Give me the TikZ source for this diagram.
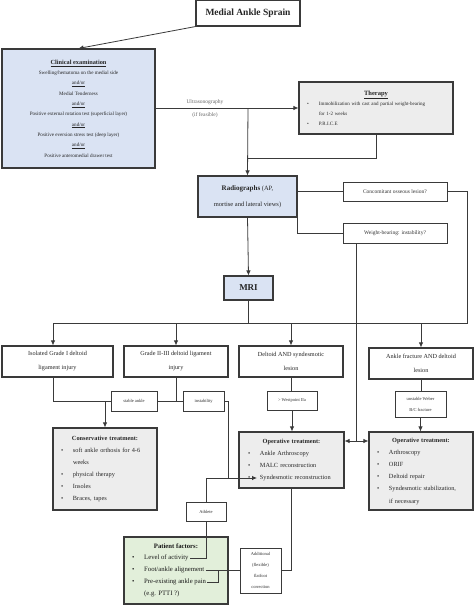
\documentclass[tikz,border=0pt]{standalone}
\usepackage{fontspec}
\setmainfont{Liberation Serif}
\usetikzlibrary{arrows.meta}
\definecolor{bluef}{HTML}{DAE3F3}
\definecolor{grayf}{HTML}{EDEDED}
\definecolor{greenf}{HTML}{E2EFDA}
\definecolor{ln}{HTML}{3A3A3A}
\newcommand{\fs}[2]{\fontsize{#1}{#2}\selectfont}
\newcommand{\bul}{\makebox[12pt][l]{\textbullet}}
\newcommand{\ind}{\hspace*{12pt}}
\begin{document}
\begin{tikzpicture}[x=1pt,y=-1pt,
  box/.style={draw=ln, line width=1.1pt, inner sep=0pt, align=center, text=black!85},
  sbox/.style={draw=ln, line width=0.7pt, inner sep=0pt, align=center, text=black!80, fill=white},
  conn/.style={draw=ln, line width=0.8pt},
  arr/.style={conn, -{Latex[length=5pt,width=4.5pt]}},
  lbl/.style={inner sep=1pt, text=black!60, font=\fs{5.5}{7}},
  pft/.style={inner sep=1pt, anchor=west, text=black!90, font=\fs{6.7}{8}},
]
\useasboundingbox (0,0) rectangle (474,606);

% ---------- boxes ----------
\node[box, fill=white, minimum width=104pt, minimum height=26pt, font=\fs{9.5}{11}] (title) at (248,13)
  {\textbf{Medial Ankle Sprain}};

\node[box, fill=bluef, minimum width=153pt, minimum height=119pt, font=\fs{5.1}{10.3}] (clin) at (78.5,108.5)
  {\underline{\textbf{\fs{6.3}{11}Clinical examination}}\\
   Swelling/hematoma on the medial side\\ \underline{and/or}\\
   Medial Tenderness\\ \underline{and/or}\\
   Positive external rotation test (superficial layer)\\ \underline{and/or}\\
   Positive eversion stress test (deep layer)\\ \underline{and/or}\\
   Positive anteromedial drawer test};

\node[box, fill=grayf, minimum width=154pt, minimum height=52pt, inner xsep=8pt,
      text width=138pt, align=left, font=\fs{5}{10}] (therapy) at (376,108)
  {\makebox[\linewidth]{\underline{\textbf{\fs{6.5}{10}Therapy}}}\\
   \bul Immobilization with cast and partial weight-bearing\\
   \ind for 1-2 weeks\\
   \bul P.R.I.C.E};

\node[box, fill=bluef, minimum width=99pt, minimum height=41pt, font=\fs{6.5}{16}] (radio) at (247.5,196.5)
  {\textbf{\fs{7}{16}Radiographs} (AP,\\ mortise and lateral views)};

\node[sbox, minimum width=104pt, minimum height=19pt, font=\fs{5.5}{7}] (conc) at (395,191.5)
  {Concomitant osseous lesion?};
\node[sbox, minimum width=104pt, minimum height=20pt, font=\fs{5.5}{7}] (weight) at (395,233)
  {Weight-bearing: instability?};

\node[box, fill=bluef, minimum width=49pt, minimum height=24pt, font=\fs{9}{11}] (mri) at (248.5,288)
  {\textbf{MRI}};

\node[box, fill=white, minimum width=111pt, minimum height=31pt, font=\fs{6.2}{14}] (b1) at (57.5,361.5)
  {Isolated Grade I deltoid\\ ligament injury};
\node[box, fill=white, minimum width=104pt, minimum height=31pt, font=\fs{6.2}{14}] (b2) at (176,361.5)
  {Grade II-III deltoid ligament\\ injury};
\node[box, fill=white, minimum width=104pt, minimum height=31pt, font=\fs{6.2}{14}] (b3) at (291,361.5)
  {Deltoid AND syndesmotic\\ lesion};
\node[box, fill=white, minimum width=104pt, minimum height=31pt, font=\fs{6.2}{14}] (b4) at (421,363.5)
  {Ankle fracture AND deltoid\\ lesion};

\node[sbox, minimum width=46pt, minimum height=20pt, font=\fs{4.5}{6}] (stable) at (134,401)
  {stable ankle};
\node[sbox, minimum width=41pt, minimum height=20pt, font=\fs{4.5}{6}] (instab) at (203.5,401)
  {instability};
\node[sbox, minimum width=50pt, minimum height=19pt, font=\fs{4.5}{6}] (west) at (292,400.5)
  {> Westpoint IIa};
\node[sbox, minimum width=51pt, minimum height=26pt, font=\fs{4.5}{11}] (unst) at (420.5,404)
  {unstable Weber\\ B/C fracture};

\node[box, fill=grayf, minimum width=104pt, minimum height=82pt, inner xsep=8pt,
      text width=88pt, align=left, font=\fs{6.3}{12}] (cons) at (105,469)
  {\makebox[\linewidth]{\textbf{Conservative treatment:}}\\
   \bul soft ankle orthosis for 4-6\\
   \ind weeks\\
   \bul physical therapy\\
   \bul Insoles\\
   \bul Braces, tapes};

\node[box, fill=grayf, minimum width=105pt, minimum height=56pt, inner xsep=9pt,
      text width=87pt, align=left, font=\fs{6.3}{12.3}] (opmid) at (291.5,460)
  {\makebox[\linewidth]{\textbf{Operative treatment:}}\\
   \bul Ankle Arthroscopy\\
   \bul MALC reconstruction\\
   \bul Syndesmotic reconstruction};

\node[box, fill=grayf, minimum width=104pt, minimum height=78pt, inner xsep=8pt,
      text width=88pt, align=left, font=\fs{6.3}{12.2}] (opr) at (421,471)
  {\makebox[\linewidth]{\textbf{Operative treatment:}}\\
   \bul Arthroscopy\\
   \bul ORIF\\
   \bul Deltoid repair\\
   \bul Syndesmotic stabilization,\\
   \ind if necessary};

\node[sbox, minimum width=40pt, minimum height=19pt, font=\fs{4.5}{6}] (ath) at (206,511.5)
  {Athlete};

\node[box, fill=greenf, minimum width=104pt, minimum height=67pt] (pf) at (176,570.5) {};
\node[inner sep=1pt, text=black!90, font=\fs{6.7}{8}] (pft) at (176,546) {\textbf{Patient factors:}};
\node[pft] (pf1) at (131,558) {\bul Level of activity};
\node[pft] (pf2) at (131,570) {\bul Foot/ankle alignement};
\node[pft] (pf3) at (131,582) {\bul Pre-existing ankle pain};
\node[pft] (pf4) at (131,594) {\ind (e.g. PTTI ?)};

\node[sbox, minimum width=41pt, minimum height=45pt, font=\fs{4.5}{11}] (add) at (260.5,570.5)
  {Additional\\ (flexible)\\ flatfoot\\ correction};

% ---------- labels ----------
\node[lbl] (us) at (205,102) {Ultrasonography};
\node[lbl] (feas) at (205,115) {(if feasible)};

% ---------- coordinates ----------
\coordinate (j0) at (248,108);
\coordinate (j1) at (248,158);
\coordinate (r1) at (467,323);
\coordinate (h1) at (53,323);
\coordinate (w1) at (356,441);
\coordinate (s1) at (53,401);
\coordinate (s2) at (105,401);
\coordinate (i1) at (228,478);
\coordinate (a1) at (206,478);
\coordinate (synd) at (257,478);
\coordinate (p3) at (218,570);

% ---------- connectors ----------
\draw[arr] (title.south west) -- (clin.north);
\draw[arr] (clin.east |- j0) -- (therapy.west |- j0);
\draw[conn] (therapy.south) |- (j1);
\draw[arr] (j0) -- (radio.north);
\draw[conn] (conc.west) -- (conc.west -| radio.east);
\draw[conn] (radio.south east) |- (weight.west);
\draw[conn] (conc.east) -| (r1) -- (h1);
\draw[arr] (radio.south) -- (mri.north);
\draw[conn] (mri.south) -- (mri.south |- h1);
\draw[arr] (h1) -- (h1 |- b1.north);
\draw[arr] (b2.north |- h1) -- (b2.north);
\draw[arr] (b3.north |- h1) -- (b3.north);
\draw[arr] (b4.north |- h1) -- (b4.north);
\draw[conn] (weight.south -| w1) -- (w1);
\draw[arr] (w1) -- (w1 -| opmid.east);
\draw[arr] (w1) -- (w1 -| opr.west);
\draw[conn] (b1.south -| s1) |- (stable.west);
\draw[conn] (b2.south) -- (b2.south |- stable.east);
\draw[conn] (stable.east) -- (instab.west);
\draw[arr] (s2) -- (s2 |- cons.north);
\draw[conn] (instab.east) -| (i1);
\draw[conn] (ath.north) -- (a1);
\draw[arr] (a1) -- (synd);
\draw[conn] (ath.south) |- (pf1.east);
\draw[conn] (pf2.east) -- (pf2.east -| add.west);
\draw[conn] (pf3.east) -| (p3);
\draw[conn] (add.east) -| (opmid.south);
\draw[conn] (b3.south) -- (b3.south |- west.north);
\draw[arr] (west.south) -- (west.south |- opmid.north);
\draw[conn] (b4.south) -- (b4.south |- unst.north);
\draw[arr] (unst.south) -- (unst.south |- opr.north);
\end{tikzpicture}
\end{document}
